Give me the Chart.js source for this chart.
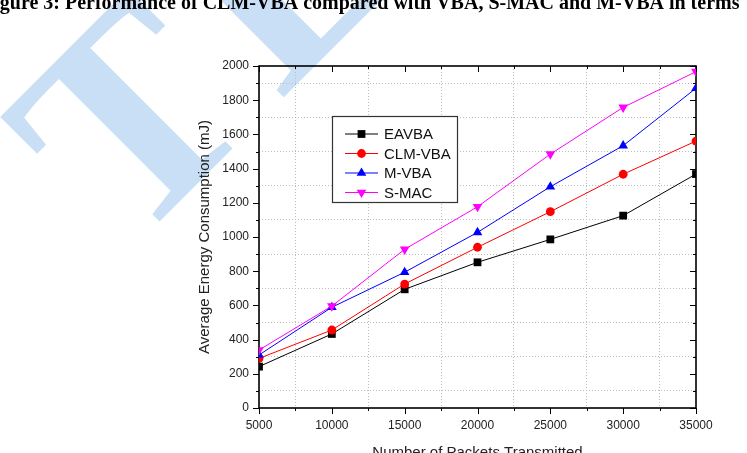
<!DOCTYPE html>
<html>
<head>
<meta charset="utf-8">
<script src="https://cdn.jsdelivr.net/npm/chart.js@4.4.0/dist/chart.umd.min.js"></script>
<style>
html, body { margin: 0; padding: 0; background: #fff; overflow: hidden; }
#wrap { position: relative; width: 747px; height: 462px; }
</style>
</head>
<body>
<div id="wrap"><canvas id="energy-chart" width="747" height="462"></canvas></div>
<script>
// values
const packets = [5000, 10000, 15000, 20000, 25000, 30000, 35000];
const eavba = [242, 433, 694, 852, 986, 1125, 1368];
const clmVba = [290, 456, 725, 940, 1148, 1367, 1561];
const mVba = [310, 589, 794, 1027, 1294, 1534, 1870];
const sMac = [339, 596, 928, 1177, 1485, 1758, 1967];
const xTickLabels = [5000, 10000, 15000, 20000, 25000, 30000, 35000];
const yTickLabels = [0, 200, 400, 600, 800, 1000, 1200, 1400, 1600, 1800, 2000];

const font = '"Liberation Sans", Arial, sans-serif';

function pts(ys) {
    return packets.map((p, i) => ({ x: p, y: ys[i] }));
}

// white page, light blue watermark and the cut caption line
const pagePlugin = {
    id: 'page',
    beforeDraw(chart) {
        const ctx = chart.ctx;
        ctx.save();
        ctx.fillStyle = '#fff';
        ctx.fillRect(0, 0, chart.width, chart.height);
        ctx.translate(129, 252);
        ctx.rotate(-Math.PI / 4);
        ctx.font = 'bold 285px "Liberation Serif", serif';
        ctx.fillStyle = '#c8dff6';
        ctx.fillText('T', 0, 0);
        ctx.fillText('E', 214, 0);
        ctx.restore();
    },
    afterDraw(chart) {
        const ctx = chart.ctx;
        ctx.save();
        ctx.font = 'bold 20px "Liberation Serif", serif';
        ctx.fillStyle = '#000';
        ctx.textBaseline = 'alphabetic';
        ctx.fillText('Figure 3: Performance of CLM-VBA compared with VBA, S-MAC and M-VBA in terms', -18, 8.5);
        ctx.restore();
    }
};

// axis box with Origin style ticks
const framePlugin = {
    id: 'frame',
    beforeDatasetsDraw(chart) {
        const { ctx, chartArea: a, scales: { x, y } } = chart;
        ctx.save();
        ctx.strokeStyle = '#000';
        ctx.lineWidth = 1;
        ctx.beginPath();
        x.ticks.forEach(t => {
            const px = Math.round(x.getPixelForValue(t.value)) + 0.5;
            const len = xTickLabels.includes(t.value) ? 6 : 3;
            ctx.moveTo(px, a.bottom); ctx.lineTo(px, a.bottom + len);
            ctx.moveTo(px, a.top); ctx.lineTo(px, a.top + len);
        });
        y.ticks.forEach(t => {
            const py = Math.round(y.getPixelForValue(t.value)) + 0.5;
            const len = yTickLabels.includes(t.value) ? 6 : 3;
            ctx.moveTo(a.left, py); ctx.lineTo(a.left - len, py);
            ctx.moveTo(a.right, py); ctx.lineTo(a.right - len, py);
        });
        ctx.stroke();
        ctx.lineWidth = 1.6;
        ctx.strokeRect(a.left, a.top, a.right - a.left, a.bottom - a.top);
        ctx.restore();
    }
};

// boxed legend inside the plot
const legendPlugin = {
    id: 'boxLegend',
    afterDatasetsDraw(chart) {
        const ctx = chart.ctx;
        ctx.save();
        ctx.fillStyle = '#fff';
        ctx.fillRect(332, 116, 125, 86);
        ctx.strokeStyle = '#333';
        ctx.lineWidth = 1.2;
        ctx.strokeRect(332.5, 116.5, 125, 86);
        chart.data.datasets.forEach((ds, i) => {
            const yy = 134 + i * 19.5;
            ctx.strokeStyle = ds.borderColor;
            ctx.lineWidth = 1;
            ctx.beginPath();
            ctx.moveTo(345, yy); ctx.lineTo(378, yy);
            ctx.stroke();
            ctx.fillStyle = ds.pointBackgroundColor;
            Chart.helpers.drawPoint(ctx, {
                pointStyle: ds.pointStyle, radius: ds.pointRadius,
                rotation: ds.pointRotation || 0, borderWidth: 0
            }, 361.5, yy);
            ctx.fillStyle = '#111';
            ctx.font = '15px ' + font;
            ctx.textBaseline = 'middle';
            ctx.fillText(ds.label, 384, yy + 1);
        });
        ctx.restore();
    }
};

function series(label, ys, color, style, radius, rotation, order) {
    return {
        label: label,
        data: pts(ys),
        borderColor: color,
        backgroundColor: color,
        pointBackgroundColor: color,
        pointBorderWidth: 0,
        pointStyle: style,
        pointRadius: radius,
        pointRotation: rotation,
        borderWidth: 1,
        tension: 0,
        order: order
    };
}

new Chart(document.getElementById('energy-chart'), {
    type: 'line',
    data: {
        datasets: [
            series('EAVBA', eavba, '#000000', 'rect', 5.5, 0, 3),
            series('CLM-VBA', clmVba, '#ff0000', 'circle', 4.4, 0, 2),
            series('M-VBA', mVba, '#0000ff', 'triangle', 5.6, 0, 1),
            series('S-MAC', sMac, '#ff00ff', 'triangle', 5.6, 180, 0)
        ]
    },
    options: {
        responsive: false,
        animation: false,
        layout: { padding: { left: 196, right: 51, top: 66, bottom: 0 } },
        plugins: {
            legend: { display: false },
            tooltip: { enabled: false }
        },
        scales: {
            x: {
                type: 'linear',
                min: 5000,
                max: 35000,
                afterFit(scale) { scale.height = 54; },
                border: { display: false, dash: [1, 2] },
                grid: {
                    drawTicks: false,
                    color: c => (c.tick && !xTickLabels.includes(c.tick.value)) ? '#bdbdbd' : 'rgba(0,0,0,0)'
                },
                ticks: {
                    stepSize: 2500,
                    autoSkip: false,
                    maxRotation: 0,
                    padding: 10,
                    color: '#222',
                    font: { family: font, size: 12 },
                    callback: v => xTickLabels.includes(v) ? String(v) : ''
                },
                title: {
                    display: true,
                    text: 'Number of Packets Transmitted',
                    color: '#222',
                    font: { family: font, size: 15 },
                    padding: { top: 0, bottom: 0 }
                }
            },
            y: {
                min: 0,
                max: 2000,
                afterFit(scale) { scale.width = 63; },
                border: { display: false, dash: [1, 2] },
                grid: {
                    drawTicks: false,
                    color: c => (c.tick && !yTickLabels.includes(c.tick.value)) ? '#bdbdbd' : 'rgba(0,0,0,0)'
                },
                ticks: {
                    stepSize: 100,
                    autoSkip: false,
                    padding: 10,
                    color: '#222',
                    font: { family: font, size: 12 },
                    callback: v => yTickLabels.includes(v) ? String(v) : ''
                },
                title: {
                    display: true,
                    text: 'Average Energy Consumption (mJ)',
                    color: '#222',
                    font: { family: font, size: 15 },
                    padding: { top: 0, bottom: 0 }
                }
            }
        }
    },
    plugins: [pagePlugin, framePlugin, legendPlugin]
});
</script>
</body>
</html>
